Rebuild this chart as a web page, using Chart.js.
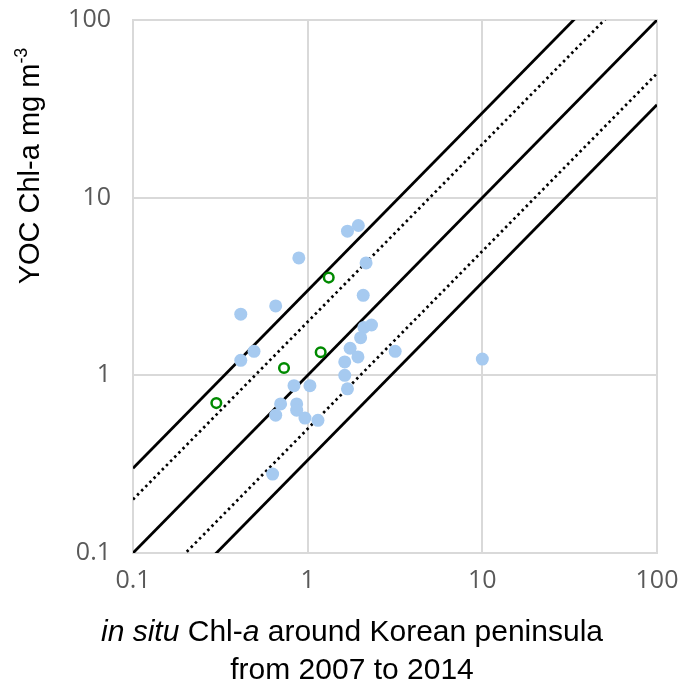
<!DOCTYPE html>
<html lang="en">
<head>
  <meta charset="UTF-8" />
  <title>YOC vs in situ Chl-a</title>
  <script src="https://cdn.jsdelivr.net/npm/chart.js"></script>
  <style>
    body {
      margin: 0;
      background: #ffffff;
    }
    #chl {
      display: block;
    }
  </style>
</head>
<body>
  <canvas id="chl" width="682" height="687"></canvas>

  <script>
    // axis ticks (log decades)
    const tickValues = [0.1, 1, 10, 100];

    // in situ vs YOC matchups (blue dots)
    const inSitu = [1.69, 1.95, 0.89, 2.16, 2.08, 0.414, 0.656, 2.10, 2.32, 2.01,
                    0.493, 0.414, 1.75, 1.94, 1.63, 3.17, 1.63, 1.69, 0.835, 1.03,
                    0.70, 0.865, 0.656, 0.865, 0.965, 1.145, 0.63, 10.0];
    const yoc    = [6.48, 6.97, 4.58, 4.29, 2.82, 2.21, 2.46, 1.86, 1.92, 1.63,
                    1.365, 1.215, 1.42, 1.27, 1.19, 1.365, 1.00, 0.84, 0.875, 0.875,
                    0.69, 0.69, 0.597, 0.637, 0.575, 0.558, 0.278, 1.235];

    // second group (green open circles)
    const inSitu2 = [1.32, 1.187, 0.732, 0.30];
    const yoc2    = [3.55, 1.35, 1.10, 0.698];

    // reference lines: end points
    const lineX   = [0.1, 100];
    const line3x  = [0.3, 300];
    const line2x  = [0.2, 200];
    const line1x  = [0.1, 100];
    const lineHalf  = [0.05, 50];
    const lineThird = [0.0333, 33.3];

    const pts = (xs, ys) => xs.map((x, i) => ({ x: x, y: ys[i] }));

    function refLine(ys, dashed) {
      return {
        data: pts(lineX, ys),
        showLine: true,
        borderColor: '#000000',
        borderWidth: dashed ? 2.7 : 2.8,
        borderDash: dashed ? [2.5, 3.4] : [],
        pointRadius: 0,
        fill: false,
        order: 2
      };
    }

    // titles with italics / superscript, drawn as canvas text
    function drawRuns(ctx, runs, cx, y, size) {
      let total = 0;
      runs.forEach(r => {
        ctx.font = (r.italic ? 'italic ' : '') + (r.sup ? size * 0.62 : size) + 'px "Liberation Sans", Arial, sans-serif';
        r.w = ctx.measureText(r.text).width;
        total += r.w;
      });
      let x = cx - total / 2;
      runs.forEach(r => {
        ctx.font = (r.italic ? 'italic ' : '') + (r.sup ? size * 0.62 : size) + 'px "Liberation Sans", Arial, sans-serif';
        ctx.fillText(r.text, x, r.sup ? y - size * 0.4 : y);
        x += r.w;
      });
    }

    const titlePlugin = {
      id: 'titles',
      beforeDatasetsDraw(chart) {
        const { ctx, chartArea: a } = chart;
        ctx.save();
        ctx.strokeStyle = '#d9d9d9';
        ctx.lineWidth = 2;
        ctx.strokeRect(a.left, a.top, a.right - a.left, a.bottom - a.top);
        ctx.restore();
      },
      afterDraw(chart) {
        const ctx = chart.ctx;
        ctx.save();
        ctx.fillStyle = '#000000';
        ctx.textAlign = 'left';
        ctx.textBaseline = 'alphabetic';

        drawRuns(ctx, [
          { text: 'in situ', italic: true },
          { text: ' Chl-' },
          { text: 'a', italic: true },
          { text: ' around Korean peninsula' }
        ], 352, 641, 30);
        drawRuns(ctx, [{ text: 'from 2007 to 2014' }], 352, 679, 30);

        ctx.translate(39, 166);
        ctx.rotate(-Math.PI / 2);
        drawRuns(ctx, [
          { text: 'YOC Chl-a mg m' },
          { text: '-3', sup: true }
        ], 0, 0, 29);
        ctx.restore();
      }
    };

    const tickFont = { family: '"Open Sans", "Liberation Sans", sans-serif', size: 25 };

    new Chart(document.getElementById('chl'), {
      type: 'scatter',
      data: {
        datasets: [
          {
            data: pts(inSitu2, yoc2),
            backgroundColor: '#ffffff',
            borderColor: '#008a00',
            borderWidth: 2.5,
            pointRadius: 4.8,
            order: 0
          },
          {
            data: pts(inSitu, yoc),
            backgroundColor: '#a6caf0',
            borderColor: '#a6caf0',
            borderWidth: 0,
            pointRadius: 6.5,
            order: 1
          },
          refLine(line3x, false),
          refLine(line2x, true),
          refLine(line1x, false),
          refLine(lineHalf, true),
          refLine(lineThird, false)
        ]
      },
      options: {
        responsive: false,
        animation: false,
        layout: { padding: { top: 20, right: 25, left: 0, bottom: 0 } },
        plugins: {
          legend: { display: false },
          tooltip: { enabled: false }
        },
        scales: {
          x: {
            type: 'logarithmic',
            min: 0.1,
            max: 100,
            afterBuildTicks: axis => { axis.ticks = tickValues.map(v => ({ value: v })); },
            afterFit: scale => {
              scale.height = 134;
              scale.paddingLeft = 0;
              scale.paddingRight = 0;
            },
            ticks: {
              color: '#595959',
              font: tickFont,
              padding: 13,
              maxRotation: 0,
              autoSkip: false,
              callback: v => String(v)
            },
            grid: { color: '#d9d9d9', lineWidth: 2, drawTicks: false },
            border: { display: false }
          },
          y: {
            type: 'logarithmic',
            min: 0.1,
            max: 100,
            afterBuildTicks: axis => { axis.ticks = tickValues.map(v => ({ value: v })); },
            afterFit: scale => {
              scale.width = 133;
              scale.paddingTop = 0;
              scale.paddingBottom = 0;
            },
            ticks: {
              color: '#595959',
              font: tickFont,
              padding: 22,
              autoSkip: false,
              callback: v => String(v)
            },
            grid: { color: '#d9d9d9', lineWidth: 2, drawTicks: false },
            border: { display: false }
          }
        }
      },
      plugins: [titlePlugin]
    });
  </script>
</body>
</html>
